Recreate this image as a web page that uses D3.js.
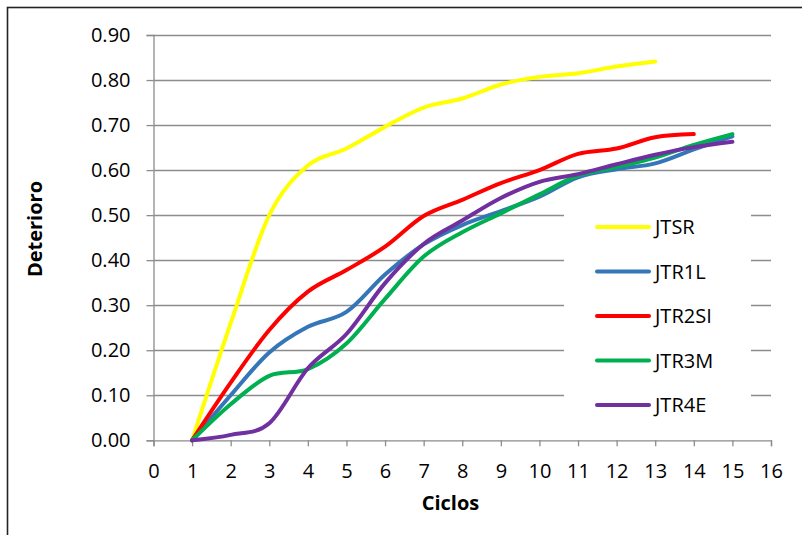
<!DOCTYPE html>
<html>
<head>
<meta charset="utf-8">
<script src="https://cdn.jsdelivr.net/npm/d3@7"></script>
<style>
  html, body { margin: 0; padding: 0; background: #fff; }
  svg { display: block; }
  text { font-family: "Open Sans", "Noto Sans", sans-serif; fill: #000; }
</style>
</head>
<body>
<svg id="chart" width="802" height="535"></svg>
<script>
const ciclos = [1, 2, 3, 4, 5, 6, 7, 8, 9, 10, 11, 12, 13, 14, 15];
const JTSR   = [0, 0.26, 0.50, 0.61, 0.648, 0.696, 0.739, 0.759, 0.79, 0.807, 0.815, 0.83, 0.841];
const JTR1L  = [0, 0.10, 0.195, 0.252, 0.285, 0.368, 0.435, 0.478, 0.509, 0.541, 0.584, 0.602, 0.615, 0.646, 0.675];
const JTR2SI = [0, 0.128, 0.245, 0.33, 0.378, 0.43, 0.498, 0.534, 0.571, 0.60, 0.636, 0.648, 0.673, 0.68];
const JTR3M  = [0, 0.08, 0.143, 0.158, 0.215, 0.314, 0.408, 0.462, 0.504, 0.546, 0.588, 0.607, 0.628, 0.656, 0.68];
const JTR4E  = [0, 0.012, 0.038, 0.16, 0.236, 0.349, 0.436, 0.488, 0.538, 0.574, 0.591, 0.613, 0.634, 0.651, 0.663];

const seriesNames = ["JTSR", "JTR1L", "JTR2SI", "JTR3M", "JTR4E"];
const seriesValues = [JTSR, JTR1L, JTR2SI, JTR3M, JTR4E];
const seriesColors = ["#FFFF00", "#3476B8", "#FF0000", "#00B050", "#7030A0"];

const xTicks = d3.range(0, 17);
const yTicks = [0, 0.1, 0.2, 0.3, 0.4, 0.5, 0.6, 0.7, 0.8, 0.9];

const svg = d3.select("#chart");

// outer chart border (right/bottom edges fall outside the picture)
svg.append("rect")
  .attr("x", 7.5).attr("y", 7.5)
  .attr("width", 900).attr("height", 700)
  .attr("fill", "#fff").attr("stroke", "#222").attr("stroke-width", 1.6);

const x = d3.scaleLinear().domain([0, 16]).range([153.5, 771]);
const y = d3.scaleLinear().domain([0, 0.9]).range([440.3, 35]);

const gridColor = "#8c8c8c";
const fontSize = "20px";

// gridlines
svg.append("g").selectAll("line").data(yTicks.slice(1)).join("line")
  .attr("x1", x(0)).attr("x2", x(16))
  .attr("y1", d => Math.round(y(d)) + 0.5).attr("y2", d => Math.round(y(d)) + 0.5)
  .attr("stroke", gridColor).attr("stroke-width", 1.3);

// y axis
const yAxis = svg.append("g")
  .attr("transform", `translate(${x(0)},0)`)
  .call(d3.axisLeft(y).tickValues(yTicks).tickFormat(d3.format(".2f")).tickSize(7).tickPadding(16));
yAxis.select(".domain").attr("stroke", gridColor).attr("stroke-width", 1.3);
yAxis.selectAll(".tick line").attr("stroke", gridColor).attr("stroke-width", 1.3);
yAxis.selectAll(".tick text").style("font-size", fontSize).style("font-family", '"Open Sans", sans-serif').attr("fill", "#000");

// x axis
const xAxis = svg.append("g")
  .attr("transform", `translate(0,${y(0)})`)
  .call(d3.axisBottom(x).tickValues(xTicks).tickFormat(d3.format("d")).tickSize(6).tickPadding(18));
xAxis.select(".domain").attr("stroke", gridColor).attr("stroke-width", 1.3);
xAxis.selectAll(".tick line").attr("stroke", gridColor).attr("stroke-width", 1.3);
xAxis.selectAll(".tick text").style("font-size", fontSize).style("font-family", '"Open Sans", sans-serif').attr("fill", "#000");

// legend background (covers gridlines)
svg.append("rect")
  .attr("x", 564).attr("y", 198).attr("width", 187).attr("height", 232)
  .attr("fill", "#fff");

// series lines
const line = d3.line()
  .x((d, i) => x(ciclos[i]))
  .y(d => y(d))
  .curve(d3.curveCardinal.tension(0));

svg.append("g").selectAll("path").data(seriesValues).join("path")
  .attr("d", d => line(d))
  .attr("fill", "none")
  .attr("stroke", (d, i) => seriesColors[i])
  .attr("stroke-width", 4)
  .attr("stroke-linecap", "round")
  .attr("stroke-linejoin", "round");

// legend
const leg = svg.append("g");
seriesNames.forEach((name, i) => {
  const cy = 227 + i * 44.5;
  leg.append("line")
    .attr("x1", 597).attr("x2", 649).attr("y1", cy).attr("y2", cy)
    .attr("stroke", seriesColors[i]).attr("stroke-width", 4).attr("stroke-linecap", "round");
  leg.append("text")
    .attr("x", 655).attr("y", cy + 7)
    .style("font-size", fontSize)
    .text(name);
});

// axis titles
svg.append("text")
  .attr("x", 450.5).attr("y", 510)
  .attr("text-anchor", "middle")
  .style("font-size", fontSize).style("font-weight", "bold")
  .text("Ciclos");

svg.append("text")
  .attr("transform", "translate(42,229) rotate(-90)")
  .attr("text-anchor", "middle")
  .style("font-size", fontSize).style("font-weight", "bold")
  .text("Deterioro");
</script>
</body>
</html>
